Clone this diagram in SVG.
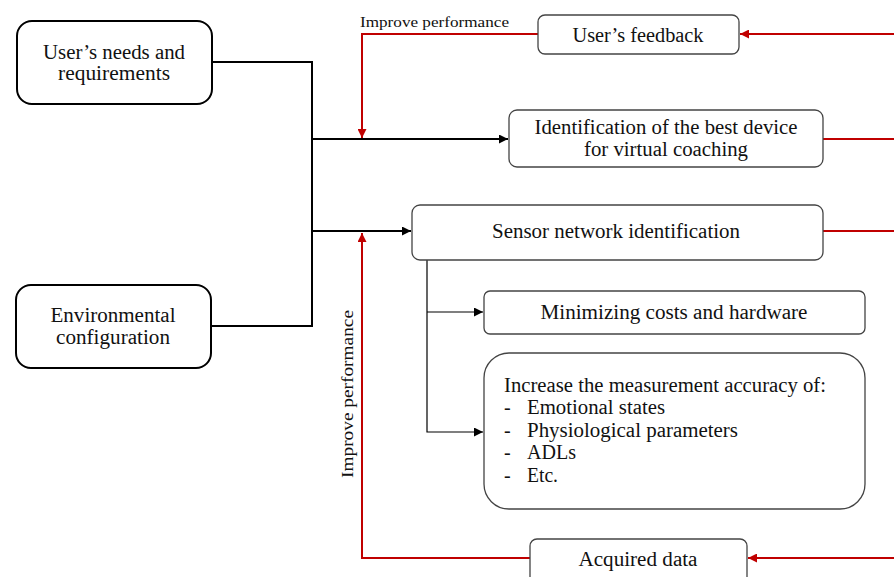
<svg xmlns="http://www.w3.org/2000/svg" width="894" height="577" viewBox="0 0 894 577">
  <defs>
    <marker id="arrowBlack" viewBox="0 0 10 10" refX="10" refY="5" markerWidth="10" markerHeight="9" markerUnits="userSpaceOnUse" orient="auto">
      <path d="M0,0 L10,5 L0,10 Z" fill="#000"/>
    </marker>
    <marker id="arrowRed" viewBox="0 0 10 10" refX="10" refY="5" markerWidth="10" markerHeight="9" markerUnits="userSpaceOnUse" orient="auto">
      <path d="M0,0 L10,5 L0,10 Z" fill="#c00000"/>
    </marker>
  </defs>
  <style>
    .box-main { fill: #fff; stroke: #000; stroke-width: 2; }
    .box { fill: #fff; stroke: #444; stroke-width: 1.3; }
    .t { font-family: "Liberation Serif", "Times New Roman", serif; font-size: 20px; fill: #111; }
    .tc { text-anchor: middle; }
    .lbl { font-family: "Liberation Serif", "Times New Roman", serif; fill: #111; }
    .blk { fill: none; stroke: #000; stroke-width: 2; }
    .thin { fill: none; stroke: #000; stroke-width: 1.2; }
    .red { fill: none; stroke: #c00000; stroke-width: 2; }
  </style>
  <rect width="894" height="577" fill="#fff"/>

  <!-- connectors -->
  <g id="connectors">
    <!-- inputs merge into the trunk -->
    <path class="blk" d="M212,62 H312 V326 H211"/>
    <path class="blk" d="M312,139 H508" marker-end="url(#arrowBlack)"/>
    <path class="blk" d="M312,231 H411" stroke-width="2.6" marker-end="url(#arrowBlack)"/>
    <!-- sensor network branches -->
    <path class="thin" d="M427,259 V432 H483" marker-end="url(#arrowBlack)"/>
    <path class="thin" d="M427,312 H483" marker-end="url(#arrowBlack)"/>
    <!-- feedback loops -->
    <path class="red" d="M894,34 H740" marker-end="url(#arrowRed)"/>
    <path class="red" d="M538,34 H362 V138" marker-end="url(#arrowRed)"/>
    <path class="red" d="M823,139 H894"/>
    <path class="red" d="M823,231 H894"/>
    <path class="red" d="M894,558 H748" marker-end="url(#arrowRed)"/>
    <path class="red" d="M530,558 H362 V233" marker-end="url(#arrowRed)"/>
    <text class="lbl" x="360" y="27" font-size="15" textLength="149" lengthAdjust="spacingAndGlyphs">Improve performance</text>
    <text class="lbl" x="0" y="0" font-size="17" text-anchor="middle" textLength="168" lengthAdjust="spacingAndGlyphs" transform="translate(353,394) rotate(-90)">Improve performance</text>
  </g>

  <g id="users-needs">
    <rect class="box-main" x="17" y="21" width="195" height="83" rx="15"/>
    <text class="t tc" x="114" y="59" textLength="142" lengthAdjust="spacingAndGlyphs">User’s needs and</text>
    <text class="t tc" x="114" y="80" textLength="112" lengthAdjust="spacingAndGlyphs">requirements</text>
  </g>

  <g id="environmental-configuration">
    <rect class="box-main" x="16" y="285" width="195" height="83" rx="15"/>
    <text class="t tc" x="113" y="322" textLength="125" lengthAdjust="spacingAndGlyphs">Environmental</text>
    <text class="t tc" x="113" y="344" textLength="114" lengthAdjust="spacingAndGlyphs">configuration</text>
  </g>

  <g id="users-feedback">
    <rect class="box" x="538" y="15" width="201" height="39" rx="7"/>
    <text class="t tc" x="638" y="42" textLength="131" lengthAdjust="spacingAndGlyphs">User’s feedback</text>
  </g>

  <g id="best-device">
    <rect class="box" x="509" y="110" width="314" height="57" rx="8"/>
    <text class="t tc" x="666" y="134" textLength="263" lengthAdjust="spacingAndGlyphs">Identification of the best device</text>
    <text class="t tc" x="666" y="156" textLength="164" lengthAdjust="spacingAndGlyphs">for virtual coaching</text>
  </g>

  <g id="sensor-network">
    <rect class="box" x="412" y="205" width="411" height="55" rx="8"/>
    <text class="t tc" x="616" y="238" textLength="248" lengthAdjust="spacingAndGlyphs">Sensor network identification</text>
  </g>

  <g id="minimizing-costs">
    <rect class="box" x="484" y="291" width="381" height="43" rx="6"/>
    <text class="t tc" x="674" y="319" textLength="267" lengthAdjust="spacingAndGlyphs">Minimizing costs and hardware</text>
  </g>

  <g id="measurement-accuracy">
    <rect class="box" x="484" y="353" width="381" height="156" rx="25"/>
    <text class="t" x="504" y="392" textLength="322" lengthAdjust="spacingAndGlyphs">Increase the measurement accuracy of:</text>
    <text class="t" x="504" y="414">-</text>
    <text class="t" x="527" y="414" textLength="138" lengthAdjust="spacingAndGlyphs">Emotional states</text>
    <text class="t" x="504" y="437">-</text>
    <text class="t" x="527" y="437" textLength="211" lengthAdjust="spacingAndGlyphs">Physiological parameters</text>
    <text class="t" x="504" y="459">-</text>
    <text class="t" x="527" y="459" textLength="49" lengthAdjust="spacingAndGlyphs">ADLs</text>
    <text class="t" x="504" y="482">-</text>
    <text class="t" x="527" y="482" textLength="31" lengthAdjust="spacingAndGlyphs">Etc.</text>
  </g>

  <g id="acquired-data">
    <rect class="box" x="530" y="539" width="217" height="48" rx="7"/>
    <text class="t tc" x="638" y="566" textLength="119" lengthAdjust="spacingAndGlyphs">Acquired data</text>
  </g>
</svg>
